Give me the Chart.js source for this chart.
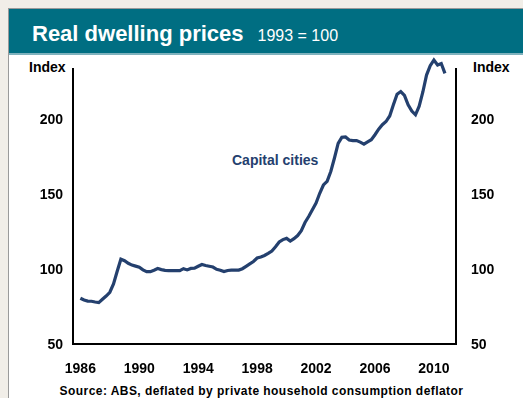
<!DOCTYPE html>
<html>
<head>
<meta charset="utf-8">
<script src="https://cdn.jsdelivr.net/npm/chart.js@4/dist/chart.umd.min.js"></script>
<style>
  html, body { margin:0; padding:0; }
  body { width:523px; height:398px; background:#f1eee8; position:relative; overflow:hidden; font-family:"Liberation Sans", Arial, sans-serif; }
  #panel { position:absolute; left:8px; top:8px; width:515px; height:390px; background:#fff; border-left:1px solid #9a9a9a; border-top:1px solid #9a9a9a; }
  #band { position:absolute; left:9px; top:9px; width:514px; height:44px; background:#006e82; border-bottom:2px solid #7fb2bd; }
  #title { position:absolute; left:32px; top:21px; color:#fff; font-weight:bold; font-size:22px; white-space:nowrap; }
  #title span { font-weight:normal; font-size:16px; margin-left:14px; }
  .lbl { position:absolute; font-weight:bold; font-size:14px; color:#000; white-space:nowrap; }
  #src { position:absolute; left:0; width:523px; top:384px; text-align:center; font-weight:bold; font-size:12px; letter-spacing:0.45px; color:#000; white-space:nowrap; }
  #series { position:absolute; left:232px; top:152px; font-weight:bold; font-size:14px; color:#24406e; white-space:nowrap; }
  canvas { position:absolute; left:0; top:0; }
</style>
</head>
<body>
<div id="panel"></div>
<div id="band"></div>
<div id="title">Real dwelling prices<span>1993 = 100</span></div>
<div class="lbl" style="left:29px;top:59px;">Index</div>
<div class="lbl" style="left:473px;top:59px;">Index</div>
<div id="series">Capital cities</div>
<div id="src">Source: ABS, deflated by private household consumption deflator</div>
<canvas id="c" width="523" height="398"></canvas>
<script>
const quarters = [
"1986-Q3","1986-Q4",
"1987-Q1","1987-Q2","1987-Q3","1987-Q4",
"1988-Q1","1988-Q2","1988-Q3","1988-Q4",
"1989-Q1","1989-Q2","1989-Q3","1989-Q4",
"1990-Q1","1990-Q2","1990-Q3","1990-Q4",
"1991-Q1","1991-Q2","1991-Q3","1991-Q4",
"1992-Q1","1992-Q2","1992-Q3","1992-Q4",
"1993-Q1","1993-Q2","1993-Q3","1993-Q4",
"1994-Q1","1994-Q2","1994-Q3","1994-Q4",
"1995-Q1","1995-Q2","1995-Q3","1995-Q4",
"1996-Q1","1996-Q2","1996-Q3","1996-Q4",
"1997-Q1","1997-Q2","1997-Q3","1997-Q4",
"1998-Q1","1998-Q2","1998-Q3","1998-Q4",
"1999-Q1","1999-Q2","1999-Q3","1999-Q4",
"2000-Q1","2000-Q2","2000-Q3","2000-Q4",
"2001-Q1","2001-Q2","2001-Q3","2001-Q4",
"2002-Q1","2002-Q2","2002-Q3","2002-Q4",
"2003-Q1","2003-Q2","2003-Q3","2003-Q4",
"2004-Q1","2004-Q2","2004-Q3","2004-Q4",
"2005-Q1","2005-Q2","2005-Q3","2005-Q4",
"2006-Q1","2006-Q2","2006-Q3","2006-Q4",
"2007-Q1","2007-Q2","2007-Q3","2007-Q4",
"2008-Q1","2008-Q2","2008-Q3","2008-Q4",
"2009-Q1","2009-Q2","2009-Q3","2009-Q4",
"2010-Q1","2010-Q2","2010-Q3","2010-Q4",
"2011-Q1","2011-Q2"
];
const capitalCities = [
80.5,79.3,
78.6,78.5,78.0,77.6,
79.8,82.0,84.5,90.0,
98.5,106.5,105.5,103.8,
102.6,101.9,101.2,99.4,
98.2,98.2,99.2,100.3,
99.6,99.1,98.9,98.9,
98.9,98.9,100.2,99.4,
100.4,100.5,101.8,103.0,
102.3,101.8,101.3,99.8,
99.2,98.3,99.0,99.3,
99.3,99.3,100.2,101.8,
103.4,105.0,107.3,108.0,
109.0,110.4,112.0,114.8,
118.0,119.6,120.4,118.6,
120.2,122.3,125.5,131.0,
135.0,139.5,144.0,150.5,
156.0,158.5,165.0,174.0,
183.8,187.8,188.0,186.0,
185.6,185.6,184.6,183.3,
184.8,186.2,189.5,193.2,
196.2,198.3,202.0,209.5,
216.5,218.3,215.8,209.5,
205.3,202.8,208.5,218.0,
229.3,235.5,239.3,236.0,
237.0,230.4
];
const yTicks = [50, 100, 150, 200];
const xTickYears = [1986, 1990, 1994, 1998, 2002, 2006, 2010];

function qToX(q) {
  const [y, qq] = q.split("-Q");
  return Number(y) + (Number(qq) - 1) / 4;
}
const points = quarters.map((q, i) => ({ x: qToX(q), y: capitalCities[i] }));

const tickFont = { family: "'Liberation Sans', Arial, sans-serif", size: 14, weight: "bold" };
const border = { display: true, color: "#000", width: 2 };
const grid = { display: true, drawOnChartArea: false, drawTicks: false };

new Chart(document.getElementById("c"), {
  type: "line",
  data: {
    datasets: [{
      data: points,
      borderColor: "#24406e",
      borderWidth: 3.2,
      pointRadius: 0,
      tension: 0,
      clip: false
    }]
  },
  options: {
    responsive: false,
    animation: false,
    layout: { padding: { top: 69, left: 0, right: 0, bottom: 0 } },
    plugins: { legend: { display: false }, tooltip: { enabled: false } },
    scales: {
      x: {
        type: "linear", min: 1986, max: 2012,
        border, grid,
        afterBuildTicks: s => { s.ticks = xTickYears.map(v => ({ value: v + 0.5 })); },
        afterFit: s => { s.height = 54; },
        ticks: { font: tickFont, color: "#000", padding: 17, maxRotation: 0, autoSkip: false,
                 callback: v => String(Math.floor(v)) }
      },
      y: {
        type: "linear", position: "left", min: 50, max: 50 + 275 / 1.5,
        border, grid,
        afterBuildTicks: s => { s.ticks = yTicks.map(v => ({ value: v })); },
        afterFit: s => { s.width = 73; },
        ticks: { font: tickFont, color: "#000", padding: 10, labelOffset: 1.5 }
      },
      y2: {
        type: "linear", position: "right", min: 50, max: 50 + 275 / 1.5,
        border, grid,
        afterBuildTicks: s => { s.ticks = yTicks.map(v => ({ value: v })); },
        afterFit: s => { s.width = 67; },
        ticks: { font: tickFont, color: "#000", padding: 15, labelOffset: 1.5 }
      }
    }
  }
});
</script>
</body>
</html>
